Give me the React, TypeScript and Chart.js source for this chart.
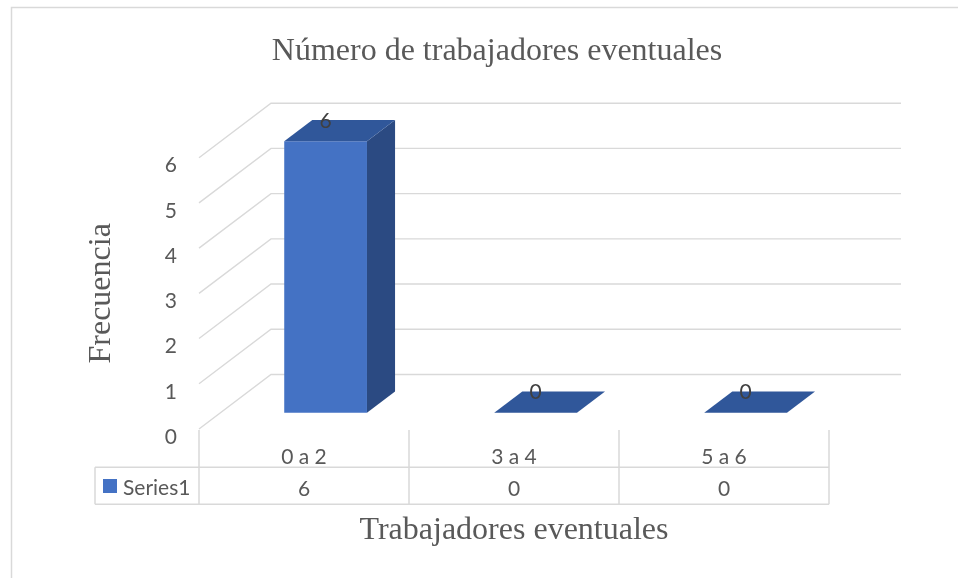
import React, { useEffect, useRef } from 'react';
import { Chart, registerables } from 'chart.js';

Chart.register(...registerables);

// ---- data ----
const categories = ['0 a 2', '3 a 4', '5 a 6'];
const seriesName = 'Series1';
const seriesValues = [6, 0, 0];
const yMin = 0;
const yMax = 6;
const yStep = 1;
const chartTitle = 'Número de trabajadores eventuales';
const xAxisTitle = 'Trabajadores eventuales';
const yAxisTitle = 'Frecuencia';

// ---- styles ----
const SERIF = "'Liberation Serif', 'Times New Roman', serif";
const SANS = "Lato, 'Open Sans', sans-serif";
const TEXT = '#595959';
const GRID = '#d9d9d9';
const FRONT = '#4472c4';
const SIDE = '#2b4a82';
const TOP = '#30579a';
const DEPTH = { dx: 72, dy: -54.5 };
const BAR_FRONT = 0.3;
const BAR_DEPTH = 0.39;

const threeDPlugin = {
  id: 'threeD',
  beforeDraw(chart: any) {
    const { ctx } = chart;
    ctx.save();
    ctx.strokeStyle = GRID;
    ctx.lineWidth = 1.5;
    ctx.strokeRect(11.5, 7.5, 1200, 1200);
    ctx.restore();
  },
  beforeDatasetsDraw(chart: any) {
    const { ctx, chartArea, scales } = chart;
    const y = scales.y;
    ctx.save();
    ctx.strokeStyle = GRID;
    ctx.lineWidth = 1.4;
    y.ticks.forEach((t: any) => {
      const py = y.getPixelForValue(t.value);
      ctx.beginPath();
      ctx.moveTo(chartArea.left, py);
      ctx.lineTo(chartArea.left + DEPTH.dx, py + DEPTH.dy);
      ctx.lineTo(chartArea.right + DEPTH.dx, py + DEPTH.dy);
      ctx.stroke();
    });
    ctx.restore();
    ctx.save();
    ctx.translate(DEPTH.dx * BAR_FRONT, DEPTH.dy * BAR_FRONT);
  },
  afterDatasetsDraw(chart: any) {
    const { ctx } = chart;
    const meta = chart.getDatasetMeta(0);
    const ddx = DEPTH.dx * BAR_DEPTH;
    const ddy = DEPTH.dy * BAR_DEPTH;
    meta.data.forEach((bar: any, i: number) => {
      const { x, y, base, width } = bar.getProps(['x', 'y', 'base', 'width'], true);
      const l = x - width / 2;
      const r = x + width / 2;
      const top = Math.min(y, base);
      const bottom = Math.max(y, base);
      if (bottom - top > 0.5) {
        ctx.fillStyle = SIDE;
        ctx.beginPath();
        ctx.moveTo(r, top);
        ctx.lineTo(r + ddx, top + ddy);
        ctx.lineTo(r + ddx, bottom + ddy);
        ctx.lineTo(r, bottom);
        ctx.closePath();
        ctx.fill();
      }
      ctx.fillStyle = TOP;
      ctx.beginPath();
      ctx.moveTo(l, top);
      ctx.lineTo(l + ddx, top + ddy);
      ctx.lineTo(r + ddx, top + ddy);
      ctx.lineTo(r, top);
      ctx.closePath();
      ctx.fill();
      ctx.fillStyle = '#404040';
      ctx.font = `21px ${SANS}`;
      ctx.textAlign = 'center';
      ctx.textBaseline = 'middle';
      ctx.fillText(String(seriesValues[i]), x, top - 20);
    });
    ctx.restore();
  },
  afterDraw(chart: any) {
    const { ctx, chartArea, scales } = chart;
    const xs = scales.x;
    const n = categories.length;
    const catW = (chartArea.right - chartArea.left) / n;
    const rowTop = chartArea.bottom + 1;
    const rowMid = 467.3;
    const rowBot = 504.3;
    const tableLeft = 95;
    ctx.save();
    ctx.strokeStyle = GRID;
    ctx.lineWidth = 1.5;
    ctx.beginPath();
    ctx.moveTo(tableLeft, rowMid);
    ctx.lineTo(chartArea.right, rowMid);
    ctx.moveTo(tableLeft, rowBot);
    ctx.lineTo(chartArea.right, rowBot);
    ctx.moveTo(tableLeft, rowMid);
    ctx.lineTo(tableLeft, rowBot);
    for (let i = 0; i <= n; i++) {
      const px = i < n ? xs.getPixelForValue(i) - catW / 2 : xs.getPixelForValue(n - 1) + catW / 2;
      ctx.moveTo(px, rowTop);
      ctx.lineTo(px, rowBot);
    }
    ctx.stroke();
    // legend key + series name
    ctx.fillStyle = FRONT;
    ctx.fillRect(103, 479, 14, 14);
    ctx.fillStyle = TEXT;
    ctx.font = `21px ${SANS}`;
    ctx.textBaseline = 'middle';
    ctx.textAlign = 'left';
    ctx.fillText(seriesName, 123, 488);
    ctx.textAlign = 'center';
    seriesValues.forEach((v, i) => {
      ctx.fillText(String(v), xs.getPixelForValue(i), 489);
    });
    ctx.restore();
  },
};

export default function App() {
  const ref = useRef<HTMLCanvasElement>(null);
  useEffect(() => {
    if (!ref.current) return;
    const chart = new Chart(ref.current, {
      type: 'bar',
      data: {
        labels: categories,
        datasets: [
          {
            label: seriesName,
            data: seriesValues,
            backgroundColor: FRONT,
            borderWidth: 0,
            categoryPercentage: 1,
            barPercentage: 0.394,
            clip: false as any,
          },
        ],
      },
      options: {
        responsive: false,
        maintainAspectRatio: false,
        animation: false,
        layout: { padding: { left: 36, right: 0, top: 0, bottom: 0 } },
        plugins: {
          legend: { display: false },
          tooltip: { enabled: false },
          title: {
            display: true,
            text: chartTitle,
            color: TEXT,
            font: { family: SERIF, size: 32, weight: 'normal' as any, lineHeight: 1.2 },
            padding: { top: 32.5, bottom: 86.8 },
          },
        },
        scales: {
          x: {
            type: 'category',
            grid: { display: false, drawTicks: false },
            border: { display: false },
            ticks: { color: TEXT, font: { family: SANS, size: 21 }, padding: 16, maxRotation: 0, autoSkip: false },
            title: {
              display: true,
              text: xAxisTitle,
              color: TEXT,
              font: { family: SERIF, size: 32, lineHeight: 1.2 },
              padding: { top: 0, bottom: 28.5 },
            },
            afterFit: (s: any) => {
              s.height = 149;
            },
          },
          y: {
            type: 'linear',
            position: 'left',
            min: yMin,
            max: yMax,
            grid: { display: false, drawTicks: false },
            border: { display: false },
            ticks: {
              stepSize: yStep,
              color: TEXT,
              font: { family: SANS, size: 21 },
              padding: 22,
              labelOffset: 8,
            },
            title: {
              display: true,
              text: yAxisTitle,
              color: TEXT,
              font: { family: SERIF, size: 32, lineHeight: 1.2 },
              padding: { top: 46.8, bottom: 0 },
            },
            afterFit: (s: any) => {
              s.width = 163;
            },
          },
          yRight: {
            type: 'linear',
            position: 'right',
            display: true,
            grid: { display: false, drawTicks: false },
            border: { display: false },
            ticks: { display: false },
            afterFit: (s: any) => {
              s.width = 129;
            },
          },
        },
      },
      plugins: [threeDPlugin],
    });
    return () => chart.destroy();
  }, []);
  return (
    <div style={{ position: 'absolute', left: 0, top: 0, width: 958, height: 578, background: '#fff' }}>
      <canvas ref={ref} width={958} height={578} style={{ display: 'block', width: 958, height: 578 }} />
    </div>
  );
}
